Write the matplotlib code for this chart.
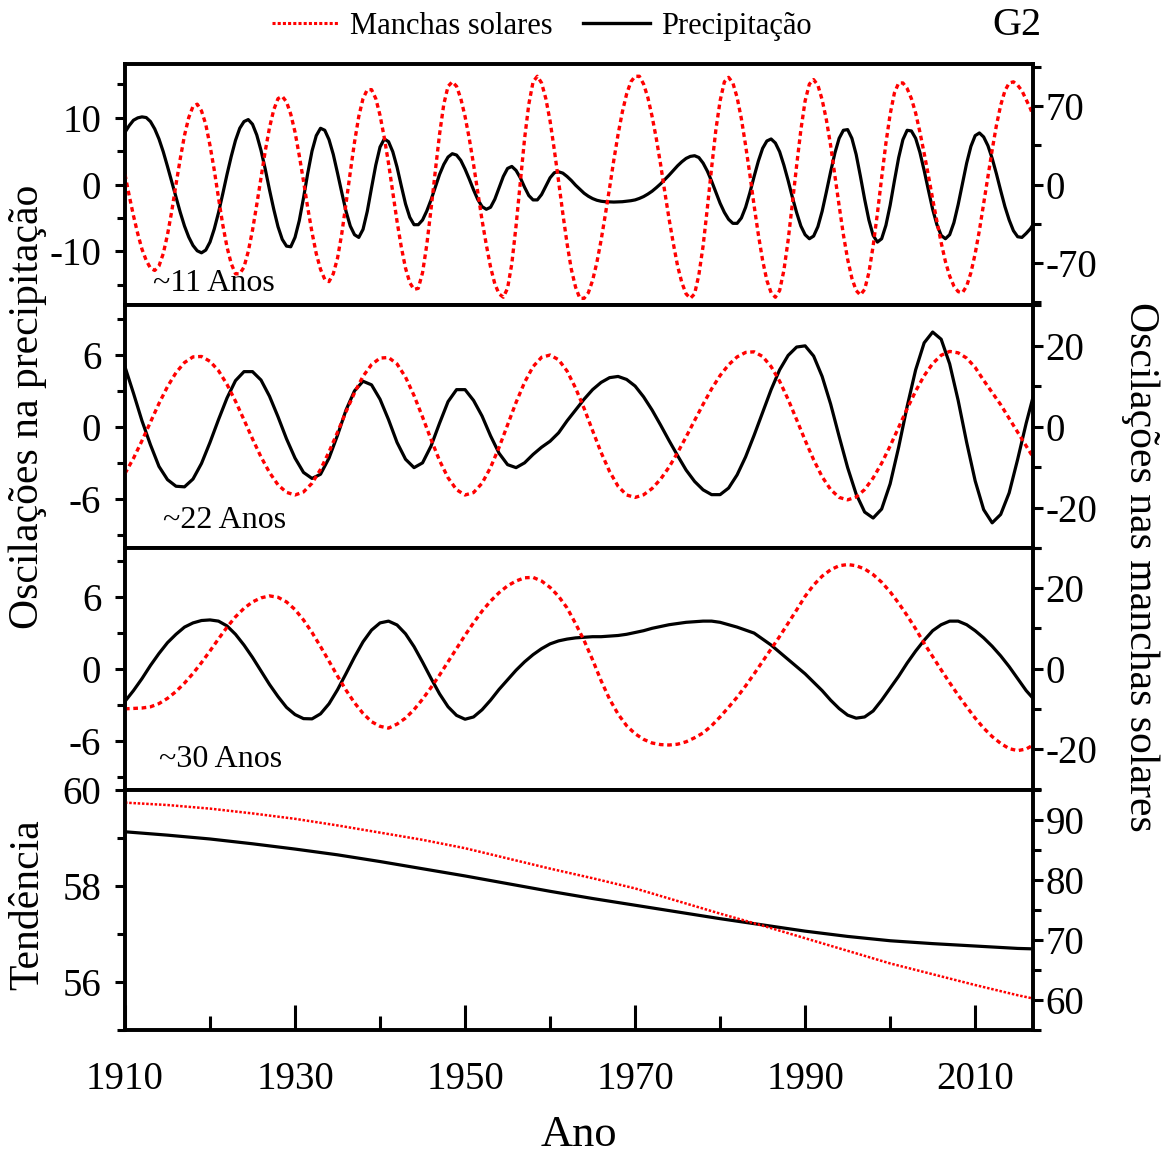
import numpy as np
import matplotlib.pyplot as plt
from matplotlib.lines import Line2D

plt.rcParams['font.family'] = ['Liberation Serif', 'DejaVu Serif']
plt.rcParams['axes.unicode_minus'] = False

anos = np.arange(1910, 2018)
anos_meio = np.arange(1910, 2017.5, 0.5)   # painel ~11 anos, passo de meio ano

# ~11 anos (precipitacao, eixo esquerdo / manchas solares, eixo direito)
prec_11 = [7.8, 8.8, 9.6, 9.95, 10.1, 10.0, 9.4, 8.3, 6.8, 4.9, 2.7, 0.4, -1.9, -4.15, -6.2, -7.85, -9.1, -9.9, -10.2, -9.8,
           -8.6, -6.65, -4.2, -1.4, 1.5, 4.2, 6.6, 8.4, 9.4, 9.7, 9.0, 7.4, 5.1, 2.3, -0.8, -3.7, -6.3, -8.2, -9.2, -9.3,
           -7.9, -5.4, -2.0, 1.7, 5.0, 7.3, 8.4, 8.1, 6.7, 4.5, 1.7, -1.2, -4.0, -6.2, -7.5, -7.9, -6.7, -4.0, -0.5, 2.9,
           5.6, 6.8, 6.4, 4.9, 2.6, -0.2, -2.9, -4.9, -6.0, -6.0, -5.3, -3.95, -2.3, -0.4, 1.5, 3.0, 4.1, 4.6, 4.4, 3.6,
           2.3, 0.8, -0.8, -2.25, -3.3, -3.7, -3.4, -2.2, -0.5, 1.2, 2.4, 2.7, 2.1, 1.0, -0.4, -1.65, -2.3, -2.3, -1.5, -0.25,
           1.0, 1.76, 1.9, 1.7, 1.2, 0.6, -0.1, -0.7, -1.3, -1.75, -2.1, -2.35, -2.5, -2.57, -2.6, -2.62, -2.6, -2.57, -2.5, -2.42,
           -2.3, -2.08, -1.8, -1.43, -1.0, -0.47, 0.1, 0.75, 1.4, 2.1, 2.8, 3.4, 3.9, 4.2, 4.3, 4.03, 3.2, 2.0, 0.5, -1.13,
           -2.8, -4.16, -5.2, -5.8, -5.8, -5.0, -3.4, -1.23, 1.2, 3.5, 5.4, 6.5, 6.8, 6.2, 4.9, 2.9, 0.6, -1.9, -4.2, -6.2,
           -7.5, -8.1, -7.7, -6.3, -4.0, -1.1, 1.9, 4.7, 6.9, 8.1, 8.2, 6.9, 4.5, 1.25, -2.2, -5.3, -7.6, -8.6, -8.1, -6.1,
           -3.1, 0.53, 4.0, 6.7, 8.1, 8.0, 6.9, 4.8, 2.1, -0.84, -3.7, -6.0, -7.6, -8.1, -7.5, -5.7, -3.0, 0.1, 3.2, 5.7,
           7.3, 7.7, 7.1, 5.8, 3.9, 1.6, -0.9, -3.3, -5.3, -6.9, -7.8, -7.9, -7.3, -6.6, -5.6]
manchas_11 = [9, -10, -28, -44, -58, -68, -75, -77, -73, -62, -45, -24, 0, 23, 44, 60, 70, 72, 66, 54,
              35, 13, -12, -36, -56, -71, -80, -80, -74, -60, -41, -18, 6, 30, 51, 67, 77, 79, 74, 63,
              47, 26, 3, -21, -43, -62, -76, -85, -87, -80, -66, -44, -17, 11, 38, 61, 77, 85, 85, 77,
              62, 42, 19, -7, -33, -56, -75, -88, -94, -93, -79, -54, -22, 12, 45, 72, 88, 92, 88, 77,
              61, 41, 18, -7, -32, -54, -74, -89, -98, -101, -93, -71, -37, 2, 41, 72, 92, 97, 91, 77,
              57, 31, 3, -26, -53, -76, -92, -102, -102, -97, -86, -70, -50, -27, -3, 22, 45, 65, 81, 92,
              97, 97, 90, 78, 61, 41, 18, -7, -31, -53, -73, -88, -98, -102, -98, -81, -55, -21, 15, 49,
              75, 92, 96, 91, 78, 59, 35, 9, -19, -45, -68, -86, -97, -101, -95, -77, -50, -17, 17, 49,
              75, 90, 94, 89, 76, 58, 35, 8, -19, -45, -67, -84, -95, -99, -94, -79, -55, -26, 6, 37,
              63, 82, 91, 91, 86, 77, 64, 47, 28, 8, -13, -33, -52, -69, -82, -91, -96, -97, -91, -79,
              -62, -41, -17, 7, 31, 53, 71, 84, 91, 92, 89, 84, 76, 68, 58]

# ~22 anos
prec_22 = [5.0, 2.8, 0.5, -1.5, -3.3, -4.4, -4.95, -5.0, -4.35, -3.05,
           -1.3, 0.6, 2.4, 3.85, 4.6, 4.6, 3.9, 2.55, 0.84, -1.0,
           -2.6, -3.8, -4.3, -3.95, -2.6, -0.7, 1.4, 3.0, 3.8, 3.5,
           2.3, 0.6, -1.3, -2.7, -3.4, -3.0, -1.6, 0.3, 2.1, 3.1,
           3.1, 2.2, 0.9, -0.75, -2.2, -3.15, -3.4, -3.0, -2.3, -1.7,
           -1.2, -0.5, 0.5, 1.4, 2.3, 3.1, 3.7, 4.1, 4.2, 3.95,
           3.4, 2.5, 1.4, 0.15, -1.15, -2.4, -3.6, -4.55, -5.25, -5.65,
           -5.65, -5.1, -4.0, -2.5, -0.7, 1.2, 3.1, 4.75, 5.95, 6.65,
           6.75, 5.9, 4.2, 1.9, -0.8, -3.4, -5.6, -7.1, -7.6, -6.85,
           -4.75, -1.7, 1.7, 4.75, 7.0, 7.9, 7.3, 5.25, 2.2, -1.3,
           -4.5, -6.9, -8.0, -7.3, -5.5, -2.7, 0.3, 3.0]
manchas_22 = [-11.6, -7.85, -3.5, 1.1, 5.7, 9.85, 13.3, 15.8, 17.2, 17.3,
              16.1, 13.8, 10.4, 6.25, 1.65, -3.05, -7.5, -11.35, -14.4, -16.25,
              -16.9, -16.15, -14.0, -10.6, -6.25, -1.4, 3.65, 8.35, 12.4, 15.3,
              16.9, 17.05, 15.45, 12.2, 7.65, 2.35, -3.2, -8.4, -12.65, -15.6,
              -16.9, -16.3, -14.0, -10.1, -5.15, 0.4, 5.95, 10.9, 14.8, 17.1,
              17.65, 16.5, 13.7, 9.5, 4.5, -1.0, -6.4, -11.1, -14.75, -16.9,
              -17.5, -16.85, -15.3, -13.0, -10.0, -6.45, -2.55, 1.5, 5.5, 9.3,
              12.6, 15.25, 17.2, 18.3, 18.45, 17.3, 14.8, 11.2, 6.7, 1.7,
              -3.4, -8.2, -12.4, -15.55, -17.5, -18.1, -17.4, -15.55, -12.7, -9.05,
              -4.8, -0.2, 4.4, 8.75, 12.55, 15.55, 17.6, 18.55, 18.2, 16.9,
              14.6, 11.4, 8.4, 5.4, 2.0, -1.4, -4.8, -8.2]

# ~30 anos
prec_30 = [-2.7, -1.8, -0.8, 0.3, 1.3, 2.2, 2.9, 3.5, 3.85, 4.05,
           4.1, 4.0, 3.6, 2.9, 2.0, 0.97, -0.16, -1.29, -2.3, -3.2,
           -3.8, -4.14, -4.16, -3.74, -2.9, -1.73, -0.38, 1.0, 2.27, 3.25,
           3.85, 4.0, 3.68, 2.94, 1.87, 0.58, -0.78, -2.07, -3.15, -3.87,
           -4.19, -4.0, -3.4, -2.6, -1.7, -0.9, -0.1, 0.6, 1.2, 1.7,
           2.1, 2.35, 2.5, 2.6, 2.65, 2.7, 2.7, 2.75, 2.8, 2.9,
           3.05, 3.2, 3.4, 3.55, 3.7, 3.8, 3.9, 3.95, 4.0, 4.0,
           3.9, 3.7, 3.5, 3.25, 3.0, 2.5, 2.0, 1.4, 0.8, 0.2,
           -0.4, -1.1, -1.8, -2.6, -3.3, -3.85, -4.1, -4.0, -3.5, -2.6,
           -1.6, -0.6, 0.5, 1.5, 2.4, 3.2, 3.7, 4.0, 4.0, 3.7,
           3.2, 2.6, 1.9, 1.1, 0.2, -0.8, -1.8, -2.6]
manchas_30 = [-10.0, -9.9, -9.8, -9.5, -8.7, -7.4, -5.7, -3.6, -1.2, 1.5,
              4.4, 7.4, 10.3, 12.9, 15.0, 16.6, 17.6, 18.1, 17.75, 16.6,
              14.7, 12.1, 9.0, 5.5, 1.85, -1.85, -5.35, -8.5, -11.15, -13.2,
              -14.35, -14.8, -13.8, -12.3, -10.2, -7.6, -4.7, -1.6, 1.7, 5.0,
              8.3, 11.4, 14.3, 16.8, 18.9, 20.6, 21.8, 22.6, 22.7, 21.8,
              20.2, 18.0, 15.1, 11.2, 7.0, 2.2, -3.0, -7.6, -11.3, -14.2,
              -16.2, -17.6, -18.5, -18.9, -19.0, -18.8, -18.2, -17.2, -16.0, -14.2,
              -12.0, -9.6, -7.1, -4.3, -1.3, 1.8, 4.9, 8.0, 11.3, 14.6,
              18.0, 20.8, 23.0, 24.6, 25.6, 25.9, 25.6, 24.8, 23.4, 21.5,
              19.1, 16.3, 13.2, 9.9, 6.3, 3.0, -0.3, -3.5, -6.6, -9.5,
              -12.3, -14.8, -16.9, -18.6, -19.9, -20.4, -20.0, -18.8]

# tendencia
anos_tend = [1910, 1915, 1920, 1925, 1930, 1935, 1940, 1945, 1950, 1955, 1960, 1965,
             1970, 1975, 1980, 1985, 1990, 1995, 2000, 2005, 2010, 2015, 2017]
prec_tend = [59.13, 59.06, 58.98, 58.88, 58.77, 58.65, 58.51, 58.36, 58.21, 58.05, 57.89, 57.74,
             57.60, 57.46, 57.32, 57.19, 57.06, 56.95, 56.86, 56.80, 56.75, 56.70, 56.69]
manchas_tend = [92.9, 92.5, 91.9, 91.1, 90.2, 89.1, 87.9, 86.7, 85.3, 83.6, 81.9, 80.3,
                78.6, 76.5, 74.4, 72.4, 70.3, 68.2, 66.1, 64.3, 62.5, 60.8, 60.2]

fig = plt.figure(figsize=(11.68, 11.55), dpi=100)
esq, larg = 0.107, 0.7774
caixas = [(0.7359, 0.2087), (0.5255, 0.2104), (0.316, 0.2095), (0.1082, 0.2078)]

paineis = [
    (anos_meio, prec_11, manchas_11, (-18, 18), (-108, 108), [-10, 0, 10], [-15, -5, 5, 15],
     [-70, 0, 70], [-105, -35, 35, 105], '~11 Anos', (0.031, 0.09)),
    (anos, prec_22, manchas_22, (-10.1, 10.15), (-30, 30), [-6, 0, 6], [-9, -3, 3, 9],
     [-20, 0, 20], [-30, -10, 10, 30], '~22 Anos', (0.042, 0.115)),
    (anos, prec_30, manchas_30, (-10.1, 10.1), (-30.2, 29.9), [-6, 0, 6], [-9, -3, 3, 9],
     [-20, 0, 20], [-30, -10, 10, 30], '~30 Anos', (0.038, 0.128)),
    (anos_tend, prec_tend, manchas_tend, (55, 60), (55, 95), [56, 58, 60], [55, 57, 59],
     [60, 70, 80, 90], [55, 65, 75, 85, 95], None, None),
]

pontilhado = (0, (1.4, 1.1))
for i, (x, prec, manchas, yl, yr, maj_l, min_l, maj_r, min_r, texto, pos) in enumerate(paineis):
    bottom, h = caixas[i]
    ax = fig.add_axes([esq, bottom, larg, h])
    ax2 = ax.twinx()
    ax.plot(x, prec, color='black', lw=2.3)
    if i < 3:
        ax2.plot(x, manchas, color='red', lw=2.4, ls=pontilhado)
    else:
        ax2.plot(x, manchas, color='red', lw=1.8, ls=(0, (1, 0.7)))
    ax.set_xlim(1910, 2016.8)
    ax.set_ylim(*yl)
    ax2.set_ylim(*yr)
    ax.set_yticks(maj_l)
    ax.set_yticks(min_l, minor=True)
    ax2.set_yticks(maj_r)
    ax2.set_yticks(min_r, minor=True)
    ax.tick_params(axis='y', which='major', direction='out', length=7, width=2.2,
                   labelsize=28, pad=10)
    ax.tick_params(axis='y', which='minor', direction='out', length=6, width=2.2)
    ax2.tick_params(axis='y', which='major', direction='out', length=7, width=2.2,
                    labelsize=28, pad=2)
    ax2.tick_params(axis='y', which='minor', direction='out', length=6, width=2.2)
    for a in (ax, ax2):
        for s in a.spines.values():
            s.set_linewidth(2.6)
    if i < 3:
        ax.tick_params(axis='x', which='both', bottom=False, labelbottom=False)
        ax.text(pos[0], pos[1], texto, transform=ax.transAxes, fontsize=23,
                ha='left', va='center')
    else:
        ax.set_xticks([1910, 1930, 1950, 1970, 1990, 2010])
        ax.set_xticks([1920, 1940, 1960, 1980, 2000], minor=True)
        ax.tick_params(axis='x', which='major', direction='in', length=18, width=2.2,
                       labelsize=28, pad=22)
        ax.tick_params(axis='x', which='minor', direction='in', length=10, width=2.2)

fig.text(0.024, 0.6476, 'Oscilações na precipitação', rotation=90, fontsize=30,
         ha='center', va='center')
fig.text(0.024, 0.2165, 'Tendência', rotation=90, fontsize=30, ha='center', va='center')
fig.text(0.976, 0.509, 'Oscilações nas manchas solares', rotation=270, fontsize=30,
         ha='center', va='center')
fig.text(0.496, 0.0173, 'Ano', fontsize=32, ha='center', va='center')
fig.text(0.871, 0.978, 'G2', fontsize=29, ha='center', va='center')

handles = [Line2D([], [], color='red', lw=2.2, ls=(0, (1, 0.7))),
           Line2D([], [], color='black', lw=2.4)]
fig.legend(handles, ['Manchas solares', 'Precipitação'], loc='center',
           bbox_to_anchor=(0.464, 0.977), ncol=2, frameon=False, fontsize=22,
           handlelength=2.2, handletextpad=0.35, columnspacing=1.0)

fig.savefig('out.png', dpi=100)
